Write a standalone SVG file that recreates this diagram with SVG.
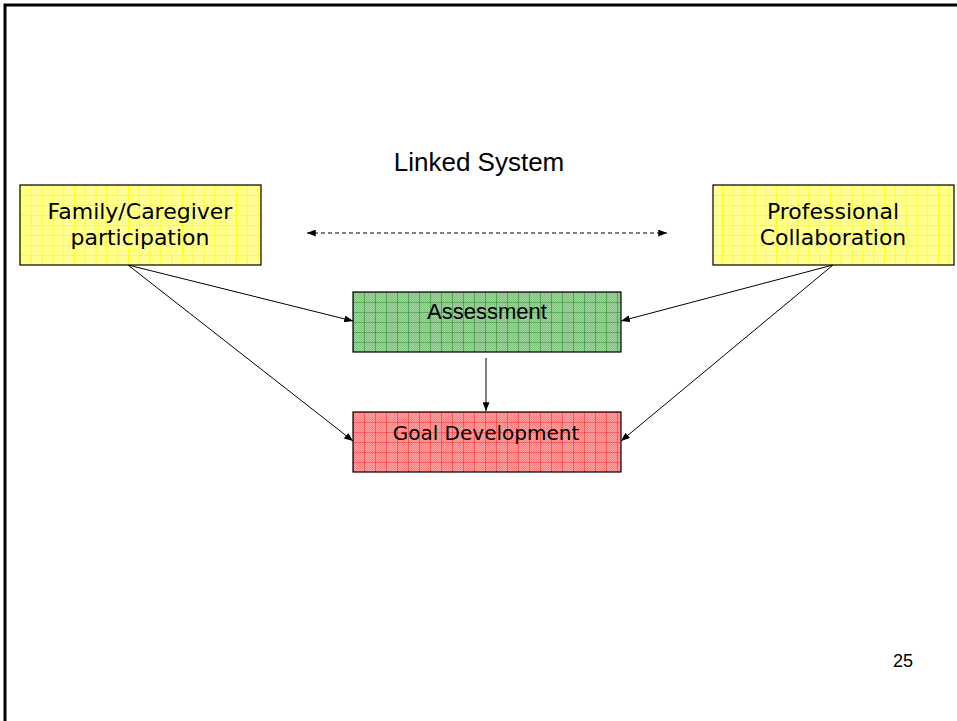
<svg xmlns="http://www.w3.org/2000/svg" width="957" height="721" viewBox="0 0 957 721">
<style>
.box{stroke:#000;stroke-width:1.2}
.comic{font-family:"Comic Sans MS","DejaVu Sans",sans-serif;fill:#000;text-anchor:middle}
.arial{font-family:"Liberation Sans",Arial,sans-serif;fill:#000;text-anchor:middle}
.con{stroke:#000;stroke-width:1;fill:none}
</style>
<defs>
<pattern id="dots" width="2" height="2" patternUnits="userSpaceOnUse">
<rect width="1" height="1" fill="#fff" fill-opacity="0.25"/>
<rect x="1" y="1" width="1" height="1" fill="#fff" fill-opacity="0.25"/>
</pattern>
<pattern id="gy" width="10.8" height="10" patternUnits="userSpaceOnUse" x="20" y="185">
<rect width="10.8" height="10" fill="#ffff80"/>
<rect width="10.8" height="10" fill="url(#dots)"/>
<path d="M0 0H10.8M0 0V10" stroke="#ffff00" stroke-width="1.5"/>
</pattern>
<pattern id="gg" width="11" height="10" patternUnits="userSpaceOnUse" x="353" y="292">
<rect width="11" height="10" fill="#80c480"/>
<rect width="11" height="10" fill="url(#dots)"/>
<path d="M0 0H11M0 0V10" stroke="#2e8b2e" stroke-width="1.2"/>
</pattern>
<pattern id="gr" width="11" height="10" patternUnits="userSpaceOnUse" x="353" y="412">
<rect width="11" height="10" fill="#ff8080"/>
<rect width="11" height="10" fill="url(#dots)"/>
<path d="M0 0H11M0 0V10" stroke="#ff3030" stroke-width="1.2"/>
</pattern>
<marker id="ah" viewBox="0 0 10 8" refX="10" refY="4" markerWidth="9" markerHeight="7" markerUnits="userSpaceOnUse" orient="auto-start-reverse">
<path d="M0 0L10 4L0 8Z" fill="#000"/>
</marker>
</defs>
<rect width="957" height="721" fill="#fff"/>
<g id="frame">
<path d="M5 721V5H957" fill="none" stroke="#000" stroke-width="3"/>
</g>
<g id="title">
<text class="arial" x="479" y="171" font-size="26">Linked System</text>
</g>
<g id="connectors">
<line class="con" x1="307" y1="233" x2="667" y2="233" stroke-dasharray="4,3" marker-start="url(#ah)" marker-end="url(#ah)"/>
<line class="con" x1="128" y1="265" x2="353" y2="321" marker-end="url(#ah)"/>
<line class="con" x1="128" y1="265" x2="353" y2="441" marker-end="url(#ah)"/>
<line class="con" x1="833" y1="265" x2="621" y2="321" marker-end="url(#ah)"/>
<line class="con" x1="833" y1="265" x2="621" y2="441" marker-end="url(#ah)"/>
<line class="con" x1="486" y1="358" x2="486" y2="411" marker-end="url(#ah)"/>
</g>
<g id="family">
<rect class="box" x="20" y="185" width="241" height="80" fill="url(#gy)"/>
<text class="comic" x="140" y="219" font-size="22">Family/Caregiver</text>
<text class="comic" x="140" y="245" font-size="22">participation</text>
</g>
<g id="professional">
<rect class="box" x="713" y="185" width="241" height="80" fill="url(#gy)"/>
<text class="comic" x="833" y="219" font-size="22">Professional</text>
<text class="comic" x="833" y="245" font-size="22">Collaboration</text>
</g>
<g id="assessment">
<rect class="box" x="353" y="292" width="268" height="60" fill="url(#gg)"/>
<text class="arial" x="487" y="319" font-size="22">Assessment</text>
</g>
<g id="goal">
<rect class="box" x="353" y="412" width="268" height="60" fill="url(#gr)"/>
<text class="comic" x="486" y="440" font-size="20">Goal Development</text>
</g>
<g id="page">
<text class="arial" x="903" y="667" font-size="18">25</text>
</g>
</svg>
